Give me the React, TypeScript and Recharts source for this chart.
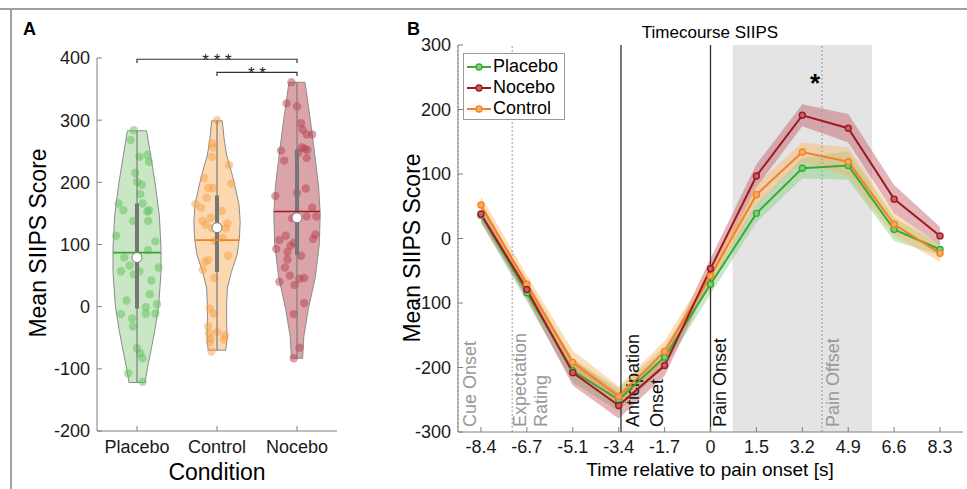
import React from "react";
import {
  ComposedChart,
  ScatterChart,
  Scatter,
  Line,
  Area,
  XAxis,
  YAxis,
  ReferenceLine,
  ReferenceArea,
  ReferenceDot,
  Legend,
} from "recharts";

const FONT = '"Liberation Sans", Arial, Helvetica, sans-serif';
const AXIS_GREY = "#808080";
const TEXT = "#1a1a1a";

// ---------- panel A: SIIPS score per condition ----------
const conditions = ["Placebo", "Control", "Nocebo"];
const meanColors = ["#36a536", "#f5821f", "#a01a22"];
const violinFills = ["#c9e7c4", "#fbd8b0", "#dba4a9"];
const pointColors = ["#5fbf5c", "#f7a045", "#b5424f"];

// violin outline: score level and half width (in category units)
const placeboOutlineY = [283, 200, 146, 93, 55, 0, -40, -67, -99, -122];
const placeboOutlineW = [0.12, 0.225, 0.28, 0.3, 0.3, 0.27, 0.22, 0.18, 0.13, 0.1];
const controlOutlineY = [299, 271, 244, 217, 191, 164, 137, 110, 83, 56, 30, 3, -24, -51, -70];
const controlOutlineW = [0.066, 0.088, 0.12, 0.18, 0.23, 0.275, 0.29, 0.28, 0.25, 0.18, 0.13, 0.12, 0.12, 0.125, 0.11];
const noceboOutlineY = [361, 300, 247, 193, 150, 102, 48, -5, -48, -83];
const noceboOutlineW = [0.1, 0.167, 0.22, 0.27, 0.29, 0.28, 0.23, 0.14, 0.085, 0.07];

// single subjects (score + horizontal jitter)
const placeboScores = [284, 268, 241, 244, 233, 215, 201, 196, 181, 166, 166, 155, 155, 153, 138, 138, 114, 105, 91, 79, 66, 57, 57, 52, 63, 42, 20, 10, -12, -1, 4, -11, -11, -19, -32, -67, -75, -83, -107, -121];
const placeboJitter = [-0.04, -0.08, 0.03, 0.13, 0.15, -0.02, 0.0, 0.06, 0.04, 0.07, -0.23, -0.17, 0.15, 0.13, -0.05, 0.14, -0.26, 0.23, 0.14, -0.16, -0.09, -0.2, 0.03, -0.04, 0.27, 0.18, 0.16, -0.13, -0.2, 0.11, 0.25, 0.23, 0.11, -0.06, -0.05, 0.0, 0.04, 0.07, -0.11, 0.07];
const controlScores = [300, 263, 256, 241, 228, 207, 198, 191, 191, 175, 165, 159, 154, 143, 138, 132, 134, 126, 126, 111, 106, 82, 75, 72, 59, 46, -3, -11, -32, -43, -41, -46, -51, -53, -57, -72];
const controlJitter = [0.0, -0.06, -0.05, -0.06, 0.15, -0.16, 0.18, -0.11, -0.05, -0.13, -0.27, -0.2, 0.06, -0.08, -0.18, -0.14, 0.13, 0.11, -0.06, 0.07, -0.03, 0.14, -0.11, -0.15, -0.18, -0.03, -0.09, -0.04, -0.11, -0.1, 0.0, 0.1, -0.08, 0.09, -0.09, -0.07];
const noceboScores = [361, 327, 322, 295, 285, 277, 277, 251, 256, 254, 252, 248, 235, 239, 190, 178, 183, 159, 145, 142, 145, 116, 114, 107, 109, 93, 103, 88, 98, 82, 76, 63, 50, 40, 45, 46, 35, 6, -12, -66, -83];
const noceboJitter = [-0.07, -0.13, 0.0, 0.05, 0.07, 0.12, 0.19, -0.2, 0.06, 0.1, 0.13, 0.02, -0.16, 0.12, 0.11, -0.27, 0.0, 0.19, 0.24, -0.06, 0.12, 0.23, -0.14, -0.22, 0.2, -0.26, -0.04, -0.12, -0.08, 0.05, -0.12, -0.15, -0.09, -0.22, 0.03, 0.09, -0.03, 0.09, -0.04, 0.03, -0.04];

const conditionMeans = [87, 107, 153];
const conditionMedians = [79, 127, 143];
const conditionQ1 = [-3, 56, 83];
const conditionQ3 = [166, 179, 252];

const significance = [
  { from: 0, to: 2, y: 398, label: "* * *" },
  { from: 1, to: 2, y: 377, label: "* *" },
];

const outlines = [
  [placeboOutlineY, placeboOutlineW],
  [controlOutlineY, controlOutlineW],
  [noceboOutlineY, noceboOutlineW],
];
const scores = [placeboScores, controlScores, noceboScores];
const jitters = [placeboJitter, controlJitter, noceboJitter];

// ---------- panel B: timecourse ----------
const timeLabels = ["-8.4", "-6.7", "-5.1", "-3.4", "-1.7", "0", "1.5", "3.2", "4.9", "6.6", "8.3"];
const placeboMean = [36, -84, -205, -250, -184, -71, 39, 109, 113, 14, -17];
const placeboSem = [12, 14, 18, 18, 16, 15, 14, 16, 22, 18, 9];
const noceboMean = [38, -79, -208, -259, -197, -47, 97, 191, 171, 61, 4];
const noceboSem = [12, 14, 20, 20, 16, 16, 18, 17, 22, 22, 14];
const controlMean = [52, -71, -192, -245, -175, -58, 68, 134, 119, 22, -23];
const controlSem = [13, 14, 18, 16, 16, 14, 16, 15, 22, 18, 13];

const timeSeries = [
  { key: "placebo", name: "Placebo", mean: placeboMean, sem: placeboSem, color: "#3aa83a", band: "#7fd07c", dot: "#7fcf7a" },
  { key: "nocebo", name: "Nocebo", mean: noceboMean, sem: noceboSem, color: "#9e1a20", band: "#c05a66", dot: "#c8606a" },
  { key: "control", name: "Control", mean: controlMean, sem: controlSem, color: "#f5821f", band: "#f8b36a", dot: "#f9ad64" },
];

// events in sample units (index along the time axis)
const events = [
  { x: -0.5, lines: ["Cue Onset"], color: "#999999", dotted: true, offsets: [12] },
  { x: 0.68, lines: ["Expectation", "Rating"], color: "#999999", dotted: true, offsets: [8, 29] },
  { x: 3.05, lines: ["Anticipation", "Onset"], color: "#111111", dotted: false, offsets: [12, 36] },
  { x: 5, lines: ["Pain Onset"], color: "#111111", dotted: false, offsets: [9] },
  { x: 7.43, lines: ["Pain Offset"], color: "#999999", dotted: true, offsets: [11] },
];
const painWindow = [5.48, 8.52];
const peakStar = { x: 7.28, y: 249 };

const timecourseData = timeLabels.map((_, i) => {
  const row: Record<string, unknown> = { t: i };
  timeSeries.forEach((s) => {
    row[s.key] = s.mean[i];
    row[s.key + "Band"] = [s.mean[i] - s.sem[i], s.mean[i] + s.sem[i]];
  });
  return row;
});

function violinPolygon(center: number, ys: number[], ws: number[]) {
  const right = ys.map((y, i) => ({ x: center + ws[i], y }));
  const left = ys.map((y, i) => ({ x: center - ws[i], y })).reverse();
  return [...right, ...left, right[0]];
}

function widthAt(ys: number[], ws: number[], v: number) {
  for (let i = 0; i < ys.length - 1; i++) {
    if (v <= ys[i] && v >= ys[i + 1]) {
      const t = (ys[i] - v) / (ys[i] - ys[i + 1]);
      return ws[i] + (ws[i + 1] - ws[i]) * t;
    }
  }
  return 0;
}

const noShape = () => <g />;

function ViolinPanel() {
  return (
    <ScatterChart width={400} height={489} margin={{ top: 58, right: 63, bottom: 28, left: 37 }}>
      <XAxis
        type="number"
        dataKey="x"
        domain={[-0.5, 2.5]}
        ticks={[0, 1, 2]}
        tickFormatter={(v) => conditions[v] ?? ""}
        height={30}
        stroke={AXIS_GREY}
        tickSize={-5}
        tickMargin={14}
        tick={{ fill: TEXT, fontSize: 18, fontFamily: FONT }}
      />
      <YAxis
        type="number"
        dataKey="y"
        domain={[-200, 400]}
        ticks={[-200, -100, 0, 100, 200, 300, 400]}
        width={60}
        stroke={AXIS_GREY}
        tickSize={-5}
        tickMargin={12}
        tick={{ fill: TEXT, fontSize: 18, fontFamily: FONT }}
      />
      {outlines.map(([ys, ws], i) => (
        <Scatter
          key={"violin" + i}
          data={violinPolygon(i, ys, ws)}
          line={{ stroke: "#8c8c8c", strokeWidth: 1, fill: violinFills[i] }}
          shape={noShape}
          isAnimationActive={false}
        />
      ))}
      {scores.map((vals, i) => (
        <Scatter
          key={"pts" + i}
          data={vals.map((v, j) => ({ x: i + jitters[i][j], y: v }))}
          shape={(p: any) => (
            <circle cx={p.cx} cy={p.cy} r={4.2} fill={pointColors[i]} fillOpacity={0.5} />
          )}
          isAnimationActive={false}
        />
      ))}
      {outlines.map(([ys], i) => (
        <Scatter
          key={"whisk" + i}
          data={[{ x: i, y: ys[0] }, { x: i, y: ys[ys.length - 1] }]}
          line={{ stroke: "#7d7d7d", strokeWidth: 1.2 }}
          shape={noShape}
          isAnimationActive={false}
        />
      ))}
      {conditions.map((_, i) => (
        <Scatter
          key={"iqr" + i}
          data={[{ x: i, y: conditionQ1[i] }, { x: i, y: conditionQ3[i] }]}
          line={{ stroke: "#767676", strokeWidth: 4 }}
          shape={noShape}
          isAnimationActive={false}
        />
      ))}
      {outlines.map(([ys, ws], i) => {
        const w = widthAt(ys, ws, conditionMeans[i]);
        return (
          <Scatter
            key={"mean" + i}
            data={[{ x: i - w, y: conditionMeans[i] }, { x: i + w, y: conditionMeans[i] }]}
            line={{ stroke: meanColors[i], strokeWidth: 1.6 }}
            shape={noShape}
            isAnimationActive={false}
          />
        );
      })}
      <Scatter
        data={conditionMedians.map((m, i) => ({ x: i, y: m }))}
        shape={(p: any) => <circle cx={p.cx} cy={p.cy} r={5} fill="#ffffff" stroke="#777777" strokeWidth={1} />}
        isAnimationActive={false}
      />
      {significance.map((s, i) => (
        <Scatter
          key={"sig" + i}
          data={[
            { x: s.from, y: s.y - 6 },
            { x: s.from, y: s.y },
            { x: s.to, y: s.y },
            { x: s.to, y: s.y - 6 },
          ]}
          line={{ stroke: "#333333", strokeWidth: 1.2 }}
          shape={noShape}
          isAnimationActive={false}
        />
      ))}
      {significance.map((s, i) => (
        <ReferenceDot
          key={"sigl" + i}
          x={(s.from + s.to) / 2}
          y={s.y}
          r={1}
          fill="none"
          stroke="none"
          label={(p: any) => {
            const vb = p.viewBox || {};
            const cx = (vb.x ?? 0) + (vb.width ?? 0) / 2;
            const cy = (vb.y ?? 0) + (vb.height ?? 0) / 2;
            return (
              <text x={cx} y={cy + 7} textAnchor="middle" fontSize={17} fontFamily={FONT} fill="#222">
                {s.label}
              </text>
            );
          }}
        />
      ))}
      <text x={23} y={35} fontSize={18} fontWeight="bold" fontFamily={FONT} fill="#000">
        A
      </text>
      <text x={46} y={243} transform="rotate(-90 46 243)" textAnchor="middle" fontSize={23} fontFamily={FONT} fill="#000">
        Mean SIIPS Score
      </text>
      <text x={217} y={480} textAnchor="middle" fontSize={23} fontFamily={FONT} fill="#000">
        Condition
      </text>
    </ScatterChart>
  );
}

function renderEventLabel(ev: (typeof events)[number]) {
  return (p: any) => {
    const vb = p.viewBox || {};
    const x = vb.x ?? 0;
    const bottom = (vb.y ?? 0) + (vb.height ?? 0) - 5;
    return (
      <g>
        {ev.lines.map((line, k) => {
          const tx = x + ev.offsets[k];
          return (
            <text
              key={k}
              x={tx}
              y={bottom}
              transform={`rotate(-90 ${tx} ${bottom})`}
              dominantBaseline="central"
              textAnchor="start"
              fontSize={18}
              fontFamily={FONT}
              fill={ev.color}
            >
              {line}
            </text>
          );
        })}
      </g>
    );
  };
}

function renderLegend() {
  return (
    <div
      style={{
        border: "1px solid #9a9a9a",
        background: "#ffffff",
        width: 102,
        height: 67,
        boxSizing: "border-box",
        padding: "2px 0 0 2px",
        fontFamily: FONT,
        fontSize: 18,
        color: "#000",
        lineHeight: "21px",
      }}
    >
      {timeSeries.map((s) => (
        <div key={s.key} style={{ display: "flex", alignItems: "center", height: 21 }}>
          <svg width={26} height={12} style={{ marginRight: 1 }}>
            <line x1={1} y1={6} x2={25} y2={6} stroke={s.color} strokeWidth={2} />
            <circle cx={13} cy={6} r={3} fill={s.dot} stroke={s.color} strokeWidth={1.3} />
          </svg>
          <span>{s.name}</span>
        </div>
      ))}
    </div>
  );
}

function TimecoursePanel() {
  return (
    <ComposedChart width={567} height={489} data={timecourseData} margin={{ top: 45, right: 4, bottom: 27, left: 8 }}>
      <ReferenceArea x1={painWindow[0]} x2={painWindow[1]} y1={-300} y2={300} fill="#e4e4e4" fillOpacity={1} stroke="none" />
      <XAxis
        type="number"
        dataKey="t"
        domain={[-0.5, 10.5]}
        ticks={timeLabels.map((_, i) => i)}
        tickFormatter={(v) => timeLabels[v] ?? ""}
        height={30}
        stroke={AXIS_GREY}
        tickSize={-5}
        tickMargin={13}
        tick={{ fill: TEXT, fontSize: 18, fontFamily: FONT }}
      />
      <YAxis
        type="number"
        domain={[-300, 300]}
        ticks={[-300, -200, -100, 0, 100, 200, 300]}
        width={50}
        stroke={AXIS_GREY}
        tickSize={-5}
        tickMargin={12}
        tick={{ fill: TEXT, fontSize: 18, fontFamily: FONT }}
      />
      {timeSeries.map((s) => (
        <Area
          key={s.key + "Band"}
          type="linear"
          dataKey={s.key + "Band"}
          stroke="none"
          fill={s.band}
          fillOpacity={0.45}
          isAnimationActive={false}
          activeDot={false}
        />
      ))}
      {events.map((ev, i) => (
        <ReferenceLine
          key={"ev" + i}
          x={ev.x}
          stroke={ev.dotted ? "#9a9a9a" : "#333333"}
          strokeWidth={ev.dotted ? 1 : 1.3}
          strokeDasharray={ev.dotted ? "2 2" : undefined}
          label={renderEventLabel(ev)}
        />
      ))}
      {[timeSeries[0], timeSeries[2], timeSeries[1]].map((s) => (
        <Line
          key={s.key}
          type="linear"
          dataKey={s.key}
          stroke={s.color}
          strokeWidth={2}
          dot={{ r: 3, fill: s.dot, stroke: s.color, strokeWidth: 1.4 }}
          activeDot={false}
          isAnimationActive={false}
        />
      ))}
      <ReferenceDot
        x={peakStar.x}
        y={peakStar.y}
        r={1}
        fill="none"
        stroke="none"
        label={(p: any) => {
          const vb = p.viewBox || {};
          const cx = (vb.x ?? 0) + (vb.width ?? 0) / 2;
          const cy = (vb.y ?? 0) + (vb.height ?? 0) / 2;
          return (
            <text x={cx} y={cy + 14} textAnchor="middle" fontSize={26} fontWeight="bold" fontFamily={FONT} fill="#000">
              *
            </text>
          );
        }}
      />
      <Legend
        verticalAlign="middle"
        align="center"
        layout="horizontal"
        wrapperStyle={{ left: 63, top: 53, width: 102, height: 67 }}
        content={renderLegend}
      />
      <text x={7} y={35} fontSize={18} fontWeight="bold" fontFamily={FONT} fill="#000">
        B
      </text>
      <text x={310} y={38} textAnchor="middle" fontSize={17} fontFamily={FONT} fill="#000">
        Timecourse SIIPS
      </text>
      <text x={20} y={248} transform="rotate(-90 20 248)" textAnchor="middle" fontSize={23} fontFamily={FONT} fill="#000">
        Mean SIIPS Score
      </text>
      <text x={310} y={476} textAnchor="middle" fontSize={19} fontFamily={FONT} fill="#000">
        Time relative to pain onset [s]
      </text>
    </ComposedChart>
  );
}

export default function App() {
  return (
    <div style={{ position: "absolute", left: 0, top: 0, width: 967, height: 489, background: "#ffffff", fontFamily: FONT }}>
      <div style={{ position: "absolute", left: 0, top: 8, width: 967, height: 2, background: "#a0a0a0" }} />
      <div style={{ position: "absolute", left: 10, top: 8, width: 2, height: 481, background: "#a0a0a0" }} />
      <div style={{ position: "absolute", left: 0, top: 0 }}>
        <ViolinPanel />
      </div>
      <div style={{ position: "absolute", left: 400, top: 0 }}>
        <TimecoursePanel />
      </div>
    </div>
  );
}
